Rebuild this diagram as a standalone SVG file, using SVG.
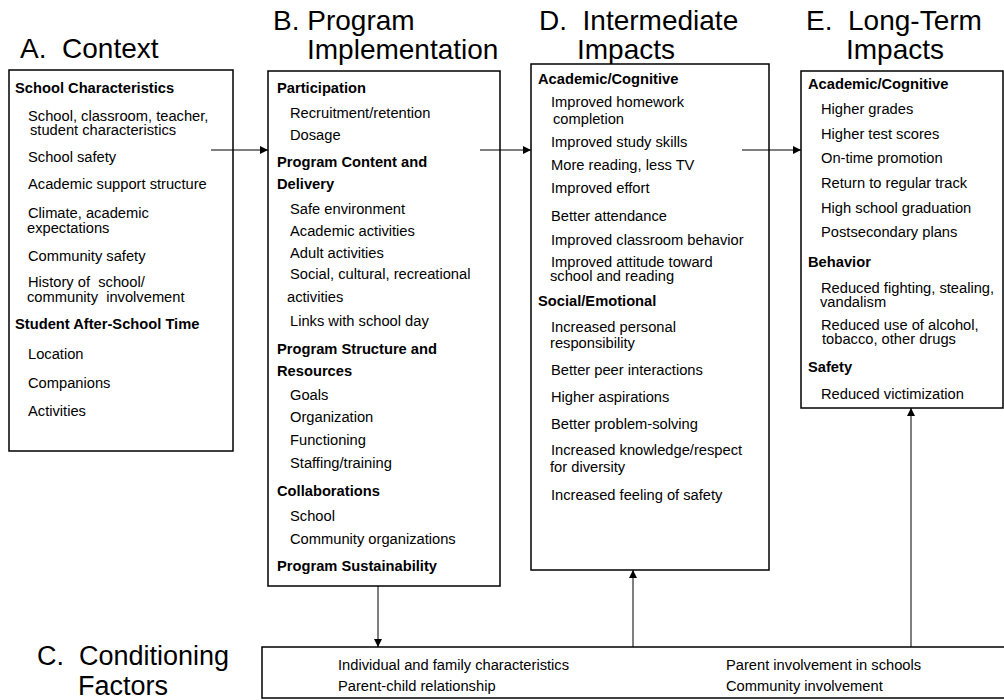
<svg xmlns="http://www.w3.org/2000/svg" width="1004" height="700" viewBox="0 0 1004 700">
<defs>
<marker id="ah" viewBox="0 0 10 10" refX="10" refY="5" markerWidth="10" markerHeight="8" markerUnits="userSpaceOnUse" orient="auto">
<path d="M0,0 L10,5 L0,10 Z" fill="#000"/>
</marker>
</defs>
<style>
text{font-family:"Liberation Sans",Arial,sans-serif;fill:#000}
.h{font-size:28px}
.hc{font-size:27px}
.t{font-size:14.7px}
.b{font-size:14.7px;font-weight:bold}
.box{fill:#fff;stroke:#000;stroke-width:1.5}
.ln{stroke:#000;stroke-width:1;fill:none}
</style>
<rect width="1004" height="700" fill="#fff"/>

<g id="headers">
<text class="h" x="20" y="58" xml:space="preserve">A.  Context</text>
<text class="h" x="273" y="30" xml:space="preserve">B. Program</text>
<text class="h" x="307" y="59">Implementation</text>
<text class="h" x="539" y="30" xml:space="preserve">D.  Intermediate</text>
<text class="h" x="577" y="59">Impacts</text>
<text class="h" x="806" y="30" xml:space="preserve">E.  Long-Term</text>
<text class="h" x="846" y="59">Impacts</text>
<text class="hc" x="37" y="665" xml:space="preserve">C.  Conditioning</text>
<text class="hc" x="78" y="695">Factors</text>
</g>

<g id="nodeA">
<rect class="box" x="9" y="70" width="224" height="381"/>
<text class="b" x="15" y="93">School Characteristics</text>
<text class="t" x="28" y="121">School, classroom, teacher,</text>
<text class="t" x="30" y="135">student characteristics</text>
<text class="t" x="28" y="162">School safety</text>
<text class="t" x="28" y="189">Academic support structure</text>
<text class="t" x="28" y="218">Climate, academic</text>
<text class="t" x="27" y="233">expectations</text>
<text class="t" x="28" y="261">Community safety</text>
<text class="t" x="28" y="287" xml:space="preserve">History of  school/</text>
<text class="t" x="27" y="302" xml:space="preserve">community  involvement</text>
<text class="b" x="15" y="329">Student After-School Time</text>
<text class="t" x="28" y="359">Location</text>
<text class="t" x="28" y="388">Companions</text>
<text class="t" x="28" y="416">Activities</text>
</g>

<g id="nodeB">
<rect class="box" x="268" y="71" width="232" height="515"/>
<text class="b" x="277" y="93">Participation</text>
<text class="t" x="290" y="118">Recruitment/retention</text>
<text class="t" x="290" y="140">Dosage</text>
<text class="b" x="277" y="167">Program Content and</text>
<text class="b" x="277" y="189">Delivery</text>
<text class="t" x="290" y="214">Safe environment</text>
<text class="t" x="290" y="236">Academic activities</text>
<text class="t" x="290" y="258">Adult activities</text>
<text class="t" x="290" y="279">Social, cultural, recreational</text>
<text class="t" x="287" y="302">activities</text>
<text class="t" x="290" y="326">Links with school day</text>
<text class="b" x="277" y="354">Program Structure and</text>
<text class="b" x="277" y="376">Resources</text>
<text class="t" x="290" y="400">Goals</text>
<text class="t" x="290" y="422">Organization</text>
<text class="t" x="290" y="445">Functioning</text>
<text class="t" x="290" y="468">Staffing/training</text>
<text class="b" x="277" y="496">Collaborations</text>
<text class="t" x="290" y="521">School</text>
<text class="t" x="290" y="544">Community organizations</text>
<text class="b" x="277" y="571">Program Sustainability</text>
</g>

<g id="nodeD">
<rect class="box" x="531" y="64" width="238" height="506"/>
<text class="b" x="538" y="84">Academic/Cognitive</text>
<text class="t" x="551" y="107">Improved homework</text>
<text class="t" x="553" y="124">completion</text>
<text class="t" x="551" y="147">Improved study skills</text>
<text class="t" x="551" y="170">More reading, less TV</text>
<text class="t" x="551" y="193">Improved effort</text>
<text class="t" x="551" y="221">Better attendance</text>
<text class="t" x="551" y="245">Improved classroom behavior</text>
<text class="t" x="551" y="267">Improved attitude toward</text>
<text class="t" x="550" y="281">school and reading</text>
<text class="b" x="538" y="306">Social/Emotional</text>
<text class="t" x="551" y="332">Increased personal</text>
<text class="t" x="550" y="348">responsibility</text>
<text class="t" x="551" y="375">Better peer interactions</text>
<text class="t" x="551" y="402">Higher aspirations</text>
<text class="t" x="551" y="429">Better problem-solving</text>
<text class="t" x="551" y="455">Increased knowledge/respect</text>
<text class="t" x="550" y="472">for diversity</text>
<text class="t" x="551" y="500">Increased feeling of safety</text>
</g>

<g id="nodeE">
<rect class="box" x="801" y="71" width="202" height="337"/>
<text class="b" x="808" y="89">Academic/Cognitive</text>
<text class="t" x="821" y="114">Higher grades</text>
<text class="t" x="821" y="139">Higher test scores</text>
<text class="t" x="821" y="163">On-time promotion</text>
<text class="t" x="821" y="188">Return to regular track</text>
<text class="t" x="821" y="213">High school graduation</text>
<text class="t" x="821" y="237">Postsecondary plans</text>
<text class="b" x="808" y="267">Behavior</text>
<text class="t" x="821" y="293">Reduced fighting, stealing,</text>
<text class="t" x="820" y="307">vandalism</text>
<text class="t" x="821" y="330">Reduced use of alcohol,</text>
<text class="t" x="822" y="344">tobacco, other drugs</text>
<text class="b" x="808" y="372">Safety</text>
<text class="t" x="821" y="399">Reduced victimization</text>
</g>

<g id="nodeC">
<rect class="box" x="262" y="647" width="750" height="51"/>
<text class="t" x="338" y="670">Individual and family characteristics</text>
<text class="t" x="338" y="691">Parent-child relationship</text>
<text class="t" x="726" y="670">Parent involvement in schools</text>
<text class="t" x="726" y="691">Community involvement</text>
</g>

<g id="connectors">
<line class="ln" x1="211" y1="150" x2="268" y2="150" marker-end="url(#ah)"/>
<line class="ln" x1="480" y1="150" x2="531" y2="150" marker-end="url(#ah)"/>
<line class="ln" x1="742" y1="150" x2="801" y2="150" marker-end="url(#ah)"/>
<line class="ln" x1="378" y1="586" x2="378" y2="647" marker-end="url(#ah)"/>
<line class="ln" x1="633" y1="647" x2="633" y2="570" marker-end="url(#ah)"/>
<line class="ln" x1="911" y1="647" x2="911" y2="408" marker-end="url(#ah)"/>
</g>
</svg>
